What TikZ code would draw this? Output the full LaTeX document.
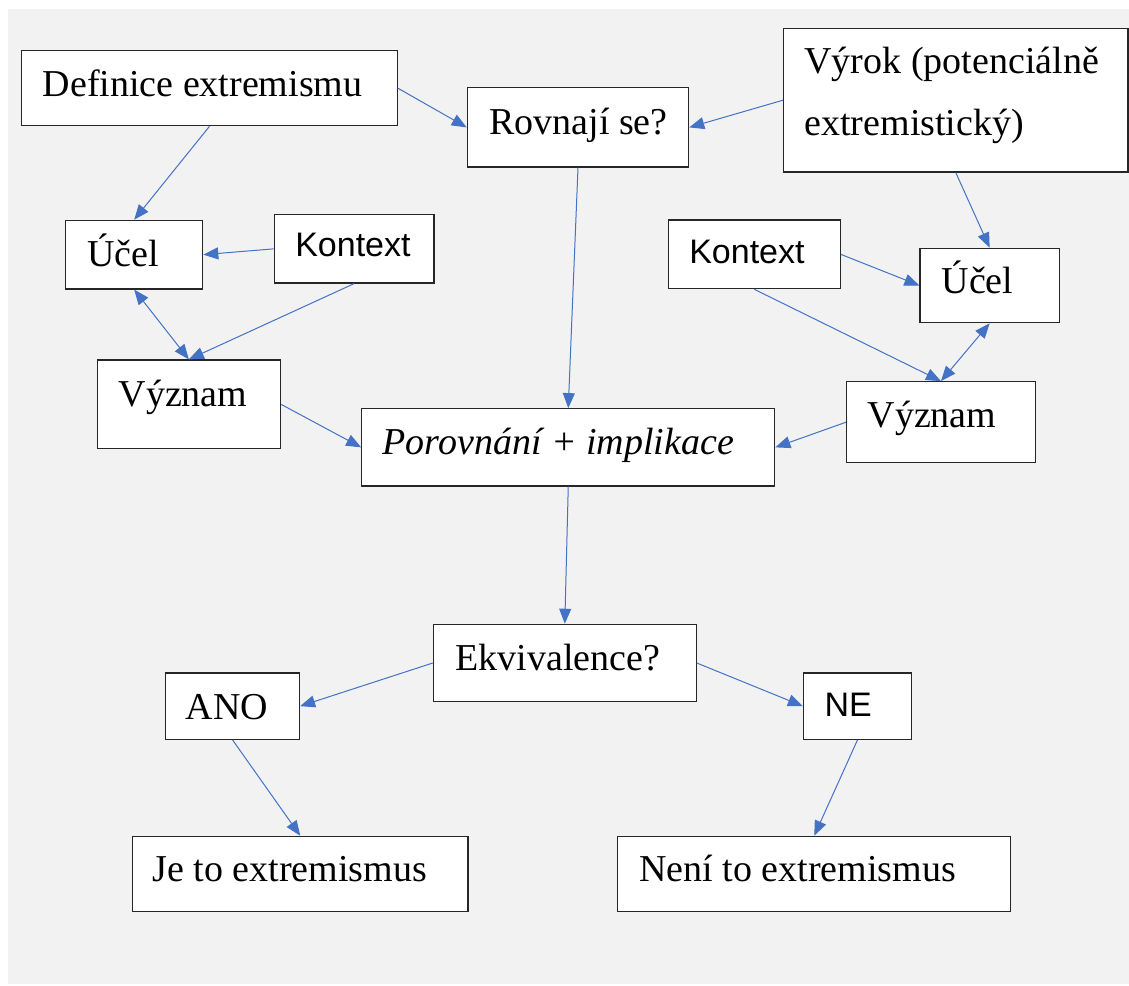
\documentclass[tikz,border=0pt]{standalone}
\usepackage{fontspec}
\setmainfont{Liberation Serif}
\setsansfont{Liberation Sans}
\usepackage{tikz}
\usetikzlibrary{arrows.meta}

\definecolor{arrowblue}{HTML}{4472C4}
\definecolor{bggray}{HTML}{F2F2F2}

\tikzset{
	box/.style={draw=black!85, line width=1.2pt, fill=white, inner ysep=0pt, align=flush left, font=\fontsize{38}{61.7}\selectfont},
	sansbox/.style={font=\sffamily\fontsize{34}{40}\selectfont},
	conn/.style={draw=arrowblue, line width=1pt, -{Triangle[length=15pt,width=12pt]}},
	dconn/.style={conn, {Triangle[length=15pt,width=12pt]}-{Triangle[length=15pt,width=12pt]}}
}

\begin{document}
\begin{tikzpicture}[x=1pt,y=-1pt]
			
			\useasboundingbox (0,0) rectangle (1129,985);
			\fill[bggray] (8,9) rectangle (1129,984);
			
			% top row
			\node (def) at (209.5,88.2)[box, inner xsep=21pt, text width=333.6pt, text height=46pt, text depth=29pt] {Definice extremismu};
			\node (rov) at (578,127.4)[box, inner xsep=22pt, text width=177.3pt, text height=46.6pt, text depth=32.7pt] {\mbox{Rovnají se?}};
			\node (vyrok) at (955.8,100.2)[box, inner xsep=21pt, text width=302.5pt, text height=45pt, text depth=98.7pt] {Výrok (potenciálně\\extremistický)};
			
			% left side
			\node (ucelL) at (134.2,254.65)[box, inner xsep=21.5pt, text width=94pt, text height=46.4pt, text depth=22.3pt] {Účel};
			\node (kontL) at (354.15,248.85)[box, sansbox, inner xsep=21pt, text width=117.7pt, text height=42pt, text depth=26.3pt] {Kontext};
			\node (vyzL) at (188.85,404.35)[box, inner xsep=21.4pt, text width=140.5pt, text height=46.7pt, text depth=42pt] {Význam};
			
			% right side
			\node (kontR) at (754.25,254.35)[box, sansbox, inner xsep=21pt, text width=129.9pt, text height=43.3pt, text depth=25.4pt] {Kontext};
			\node (ucelR) at (989.65,285.5)[box, inner xsep=21.6pt, text width=96.1pt, text height=45pt, text depth=29.4pt] {Účel};
			\node (vyzR) at (940.95,422.2)[box, inner xsep=21pt, text width=146.7pt, text height=46pt, text depth=35pt] {Význam};
			
			\node (por) at (568.25,447.35)[box, inner xsep=21pt, text width=371pt, text height=46pt, text depth=31.3pt] {\itshape Porovnání + implikace};
			
			% decision
			\node (ekv) at (564.8,663)[box, inner xsep=22pt, text width=218.8pt, text height=45.7pt, text depth=31.7pt] {Ekvivalence?};
			\node (ano) at (232.55,706.15)[box, inner xsep=20pt, text width=93.9pt, text height=46pt, text depth=20.3pt] {ANO};
			\node (ne) at (857.5,706.15)[box, sansbox, inner xsep=21pt, text width=66pt, text height=43pt, text depth=23.3pt] {NE};
			\node (jeto) at (300.25,874)[box, inner xsep=20pt, text width=295.5pt, text height=45.4pt, text depth=30pt] {Je to extremismus};
			\node (neni) at (814.25,874)[box, inner xsep=21.5pt, text width=350.1pt, text height=45.4pt, text depth=30pt] {Není to extremismus};
			
			\draw[conn] (def.east) -- (rov.west);
			\draw[conn] (vyrok.west) -- (rov.east);
			\draw[conn] (def.south) -- (ucelL.north);
			\draw[conn] (kontL.west) -- (ucelL.east);
			\draw[dconn] (ucelL.south) -- (vyzL.north);
			\draw[conn] (kontL.south) -- (vyzL.north);
			\draw[conn] (vyzL.east) -- (por.west);
			\draw[conn] (rov.south) -- (por.north);
			\draw[conn] (vyrok.south) -- (ucelR.north);
			\draw[conn] (kontR.east) -- (ucelR.west);
			\draw[conn] (kontR.south) -- (vyzR.north);
			\draw[dconn] (ucelR.south) -- (vyzR.north);
			\draw[conn] (vyzR.west) -- (por.east);
			\draw[conn] (por.south) -- (ekv.north);
			\draw[conn] (ekv.west) -- (ano.east);
			\draw[conn] (ekv.east) -- (ne.west);
			\draw[conn] (ano.south) -- (jeto.north);
			\draw[conn] (ne.south) -- (neni.north);
			
		\end{tikzpicture}
\end{document}
